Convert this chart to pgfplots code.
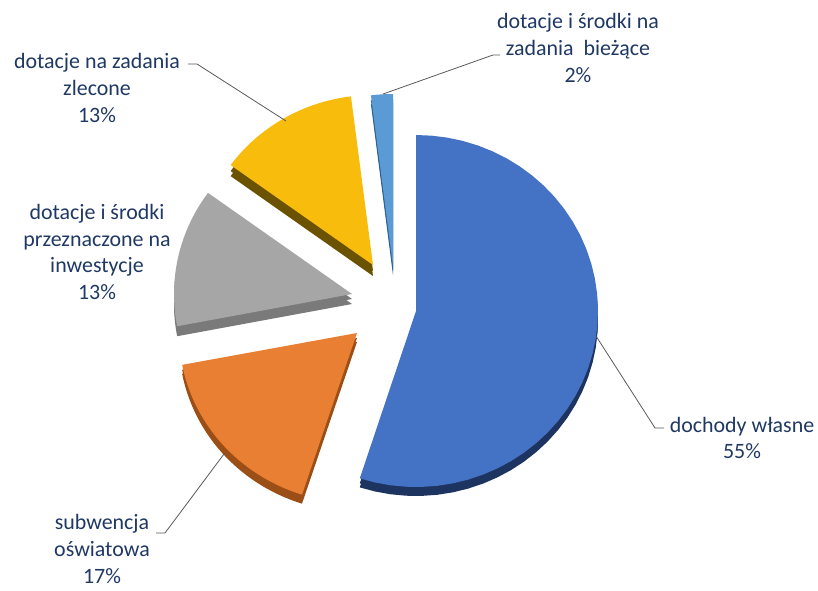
\documentclass[border=0pt]{standalone}
\usepackage{pgfplots}
\pgfplotsset{compat=1.18}
\usepackage{fontspec}
\setmainfont{Carlito}
\definecolor{labc}{HTML}{1F3864}
\definecolor{cblue}{HTML}{4472C4}\definecolor{sblue}{HTML}{1E3460}
\definecolor{corange}{HTML}{E97F33}\definecolor{sorange}{HTML}{9C4E17}
\definecolor{cgray}{HTML}{A6A6A6}\definecolor{sgray}{HTML}{7A7A7A}
\definecolor{cyellow}{HTML}{F8BC0C}\definecolor{syellow}{HTML}{6B5200}
\definecolor{clblue}{HTML}{5B9BD5}\definecolor{slblue}{HTML}{2F5F8F}
% slice: colour, apex x, apex y, start %, end %, x radius, y radius
\newcommand{\slice}[7]{%
  \addplot[fill=#1, draw=none, samples at={-1,0,1,...,40,41}, variable=\t]
  ({ifthenelse(or(\t<0,\t>40), #2, #2 + #6*cos(90-3.6*(#4+(#5-#4)*\t/40)))},
   {ifthenelse(or(\t<0,\t>40), #3, #3 - #7*sin(90-3.6*(#4+(#5-#4)*\t/40)))});
}
\newcommand{\labfont}{\fontsize{22}{27}\selectfont}
\tikzset{lab/.style={align=center, text=labc, font=\labfont, inner sep=0pt}}
\begin{document}
\begin{tikzpicture}
\begin{axis}[
  scale only axis, width=818bp, height=591bp,
  xmin=0, xmax=818, ymin=0, ymax=591, y dir=reverse,
  axis lines=none, clip=false,
]
% sides (thickness)
\slice{sblue}{416}{320}{0}{55}{182}{176}
\slice{sorange}{357}{342}{55}{72}{178}{170}
\slice{sgray}{352}{304}{72}{85}{178}{172}
\slice{syellow}{373}{276}{85}{98}{176}{170}
\slice{slblue}{393}{275}{98}{100}{176}{172}
\slice{sblue}{416}{316}{0}{55}{182}{176}
\slice{sorange}{357}{338}{55}{72}{178}{170}
\slice{sgray}{352}{299}{72}{85}{178}{172}
\slice{syellow}{373}{271}{85}{98}{176}{170}
\slice{slblue}{393}{271}{98}{100}{176}{172}
% tops
\slice{cblue}{416}{311}{0}{55}{182}{176}
\slice{corange}{357}{333}{55}{72}{178}{170}
\slice{cgray}{352}{294}{72}{85}{178}{172}
\slice{cyellow}{373}{265}{85}{98}{176}{170}
\slice{clblue}{393}{266}{98}{100}{176}{172}
% leader lines
\draw[black!65, line width=0.8bp] (axis cs:383,94) -- (axis cs:493,55) -- (axis cs:500,55);
\draw[black!65, line width=0.8bp] (axis cs:286,121) -- (axis cs:197,64) -- (axis cs:188,64);
\draw[black!65, line width=0.8bp] (axis cs:596,336) -- (axis cs:655,428) -- (axis cs:664,428);
\draw[black!65, line width=0.8bp] (axis cs:224,454) -- (axis cs:165,533) -- (axis cs:156,533);
% labels
\node[lab] at (axis cs:578,48) {dotacje i środki na\\zadania~ bieżące\\2\%};
\node[lab] at (axis cs:97,88) {dotacje na zadania\\zlecone\\13\%};
\node[lab] at (axis cs:97,252) {dotacje i środki\\przeznaczone na\\inwestycje\\13\%};
\node[lab] at (axis cs:742,438) {dochody własne\\55\%};
\node[lab] at (axis cs:102,549) {subwencja\\oświatowa\\17\%};
\end{axis}
\pgfresetboundingbox
\path[use as bounding box] (current axis.south west) rectangle (current axis.north east);
\end{tikzpicture}
\end{document}
